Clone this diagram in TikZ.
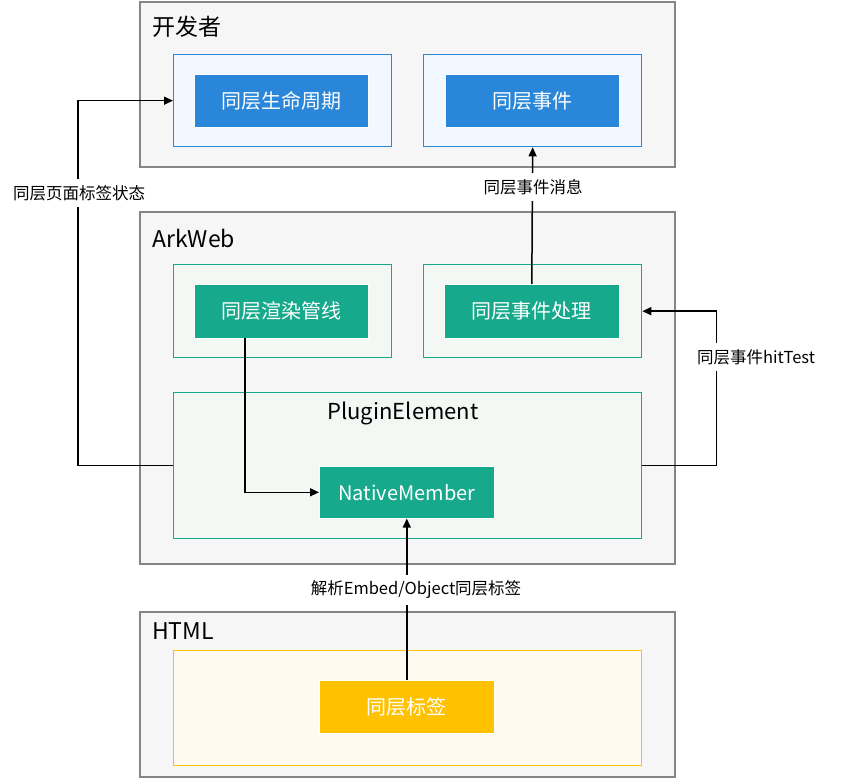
\documentclass[tikz,border=0pt]{standalone}
\usepackage{fontspec}
\setmainfont{Noto Sans CJK SC}
\usetikzlibrary{arrows.meta}
\definecolor{laygray}{HTML}{858585}
\definecolor{layfill}{HTML}{F6F6F6}
\definecolor{bluedark}{HTML}{2A86D9}
\definecolor{bluelight}{HTML}{F1F8FF}
\definecolor{greendark}{HTML}{17A98B}
\definecolor{greenlight}{HTML}{F4F8F4}
\definecolor{yellowdark}{HTML}{FFC100}
\definecolor{yellowlight}{HTML}{FEFAF0}
\begin{document}
\begin{tikzpicture}[x=1pt,y=-1pt,
  layer/.style={draw=laygray, fill=layfill, line width=1.5pt, anchor=north west, inner sep=0pt},
  title/.style={anchor=west, inner sep=0pt, font=\fontsize{23}{27}\selectfont},
  bluebox/.style={draw=bluedark, fill=bluelight, line width=1.3pt, anchor=north west, inner sep=0pt},
  greenbox/.style={draw=greendark, fill=greenlight, line width=1.3pt, anchor=north west, inner sep=0pt},
  yellowbox/.style={draw=yellowdark, fill=yellowlight, line width=1.3pt, anchor=north west, inner sep=0pt},
  solid/.style={fill=#1, draw=white, line width=0.6pt, anchor=north west, inner sep=0pt, text=white, font=\fontsize{20}{24}\selectfont},
  arr/.style={draw=black, line width=1.5pt, -{Triangle[length=9pt,width=8pt]}},
  elabel/.style={fill=white, inner xsep=2pt, inner ysep=6pt, font=\fontsize{16.5}{20}\selectfont}
]
\useasboundingbox (0,0) rectangle (848,777);
\fill[white] (0,0) rectangle (848,777);

% layers
\node[layer, minimum width=535pt, minimum height=165pt] (dev) at (139,1) {};
\node[title] (devt) at (152,27) {开发者};
\node[layer, minimum width=535pt, minimum height=352pt] (ark) at (139,211) {};
\node[title] (arkt) at (152,238) {ArkWeb};
\node[layer, minimum width=535pt, minimum height=165pt] (html) at (139,611) {};
\node[title] (htmlt) at (152,631) {HTML};

% developer boxes
\node[bluebox, minimum width=218pt, minimum height=92pt] (lifeo) at (173,54) {};
\node[solid=bluedark, minimum width=174pt, minimum height=53pt] (life) at (194,74) {同层生命周期};
\node[bluebox, minimum width=218pt, minimum height=92pt] (evo) at (423,54) {};
\node[solid=bluedark, minimum width=174pt, minimum height=53pt] (ev) at (445,74) {同层事件};

% ArkWeb boxes
\node[greenbox, minimum width=218pt, minimum height=93pt] (rendero) at (173,264) {};
\node[solid=greendark, minimum width=174pt, minimum height=54pt] (render) at (194,284) {同层渲染管线};
\node[greenbox, minimum width=218pt, minimum height=93pt] (evproco) at (423,264) {};
\node[solid=greendark, minimum width=175pt, minimum height=54pt] (evproc) at (444,284) {同层事件处理};
\node[greenbox, minimum width=468pt, minimum height=146pt] (pe) at (173,392) {};
\node[inner sep=0pt, font=\fontsize{22}{26}\selectfont] (pet) at (403,413) {PluginElement};
\node[solid=greendark, minimum width=175pt, minimum height=52pt] (nm) at (319,466) {NativeMember};

% HTML boxes
\node[yellowbox, minimum width=468pt, minimum height=115pt] (tago) at (173,650) {};
\node[solid=yellowdark, minimum width=175pt, minimum height=53pt] (tag) at (319,680) {同层标签};

% connectors
\draw[arr] (pe.west) -- ++(-95,0) |- (lifeo.west);
\node[elabel] (l1) at (79,193) {同层页面标签状态};

\draw[arr] (evproc.north) -- (evo.south);
\node[elabel] (l2) at (533,187) {同层事件消息};

\draw[arr] (pe.east) -- ++(74,0) |- (evproco.east);
\node[elabel] (l3) at (756,357) {同层事件hitTest};

\coordinate (rs) at (245,338);
\draw[arr] (rs) |- (nm.west);

\draw[arr] (tag.north) -- (nm.south);
\node[elabel] (l4) at (416,590) {解析Embed/Object同层标签};
\end{tikzpicture}
\end{document}
